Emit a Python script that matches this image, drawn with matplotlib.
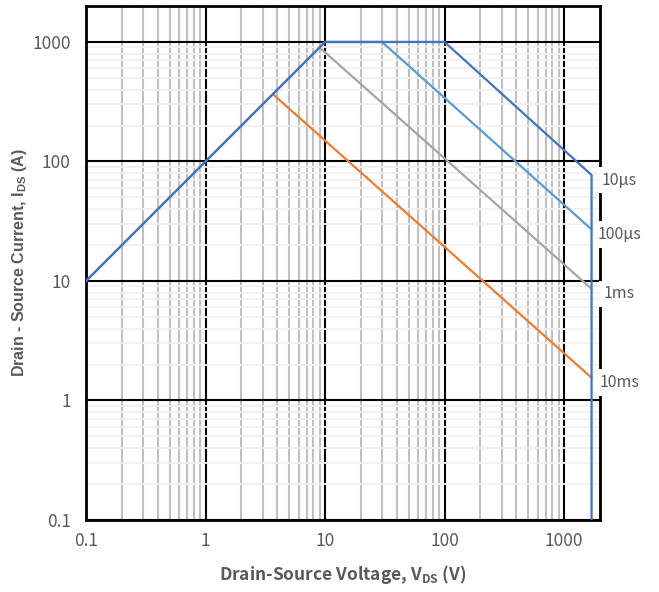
import matplotlib
import matplotlib.pyplot as plt
import matplotlib.ticker as mticker
import numpy as np

matplotlib.use('agg')

plt.rcParams['font.family'] = ['Noto Sans CJK SC', 'DejaVu Sans']
plt.rcParams['mathtext.default'] = 'regular'

# safe operating area, Vds (V) vs Ids (A)
v_10us = [0.1, 10, 100, 1700, 1700]
i_10us = [10, 1000, 1000, 77, 0.1]
v_100us = [0.1, 10, 30, 1700]
i_100us = [10, 1000, 1000, 27]
v_1ms = [9, 1700]
i_1ms = [900, 8.6]
v_10ms = [3.66, 1700]
i_10ms = [366, 1.55]

labels = ['10µs', '100µs', '1ms', '10ms']
x_ticks = [0.1, 1, 10, 100, 1000]
x_ticklabels = ['0.1', '1', '10', '100', '1000']
y_ticks = [0.1, 1, 10, 100, 1000]
y_ticklabels = ['0.1', '1', '10', '100', '1000']

text_gray = '#595959'

fig = plt.figure(figsize=(6.59, 5.92), dpi=100)
ax = fig.add_axes([86 / 659, 1 - 520 / 592, 514 / 659, 514 / 592])
ax.set_xscale('log')
ax.set_yscale('log')
ax.set_xlim(0.1, 2000)
ax.set_ylim(0.1, 2000)

# grid: light horizontal minors, gray vertical minors, black majors
ax.xaxis.set_minor_locator(mticker.LogLocator(base=10, subs=np.arange(2, 10)))
ax.yaxis.set_minor_locator(mticker.LogLocator(base=10, subs=np.arange(2, 10)))
ax.grid(which='minor', axis='y', color='#F0F0F0', lw=1.3, zorder=0)
ax.grid(which='minor', axis='x', color='#C0C0C0', lw=1.5, zorder=0)
ax.grid(which='major', color='black', lw=1.5, zorder=1)
ax.set_axisbelow(True)
for s in ax.spines.values():
    s.set_linewidth(2)
    s.set_color('black')

ax.plot(v_10ms, i_10ms, color='#ED7D31', lw=1.6, zorder=3)
ax.plot(v_1ms, i_1ms, color='#A5A5A5', lw=1.6, zorder=3)
ax.plot(v_100us, i_100us, color='#5B9BD5', lw=1.6, zorder=3)
ax.plot(v_10us, i_10us, color='#4472C4', lw=1.6, zorder=4)

ends = [(v_10us[3], i_10us[3]), (v_100us[-1], i_100us[-1]),
        (v_1ms[-1], i_1ms[-1]), (v_10ms[-1], i_10ms[-1])]
for lab, (x, y) in zip(labels, ends):
    ax.annotate(lab, (x, y), xytext=(28, -5), textcoords='offset pixels',
                ha='center', va='center', fontsize=11.5, color=text_gray,
                bbox=dict(boxstyle='square,pad=0.3', fc='white', ec='none'),
                annotation_clip=False, zorder=6)

ax.set_xticks(x_ticks)
ax.set_xticklabels(x_ticklabels)
ax.set_yticks(y_ticks)
ax.set_yticklabels(y_ticklabels)
ax.xaxis.set_minor_formatter(mticker.NullFormatter())
ax.yaxis.set_minor_formatter(mticker.NullFormatter())
ax.tick_params(which='both', length=0, labelsize=12.5, labelcolor=text_gray)
ax.tick_params(axis='x', pad=9)
ax.tick_params(axis='y', pad=11)

ax.set_xlabel('Drain-Source Voltage, V$_{DS}$ (V)', fontsize=12.5, fontweight='bold',
              color=text_gray)
ax.xaxis.set_label_coords(0.5, -(563 - 520) / 514)
ax.set_ylabel('Drain - Source Current, I$_{DS}$ (A)', fontsize=11.5, fontweight='bold',
              color=text_gray, family=['Liberation Sans', 'DejaVu Sans'])
ax.yaxis.set_label_coords(-(86 - 29) / 514, 0.5)

# plt.show()
plt.savefig('out.png')
